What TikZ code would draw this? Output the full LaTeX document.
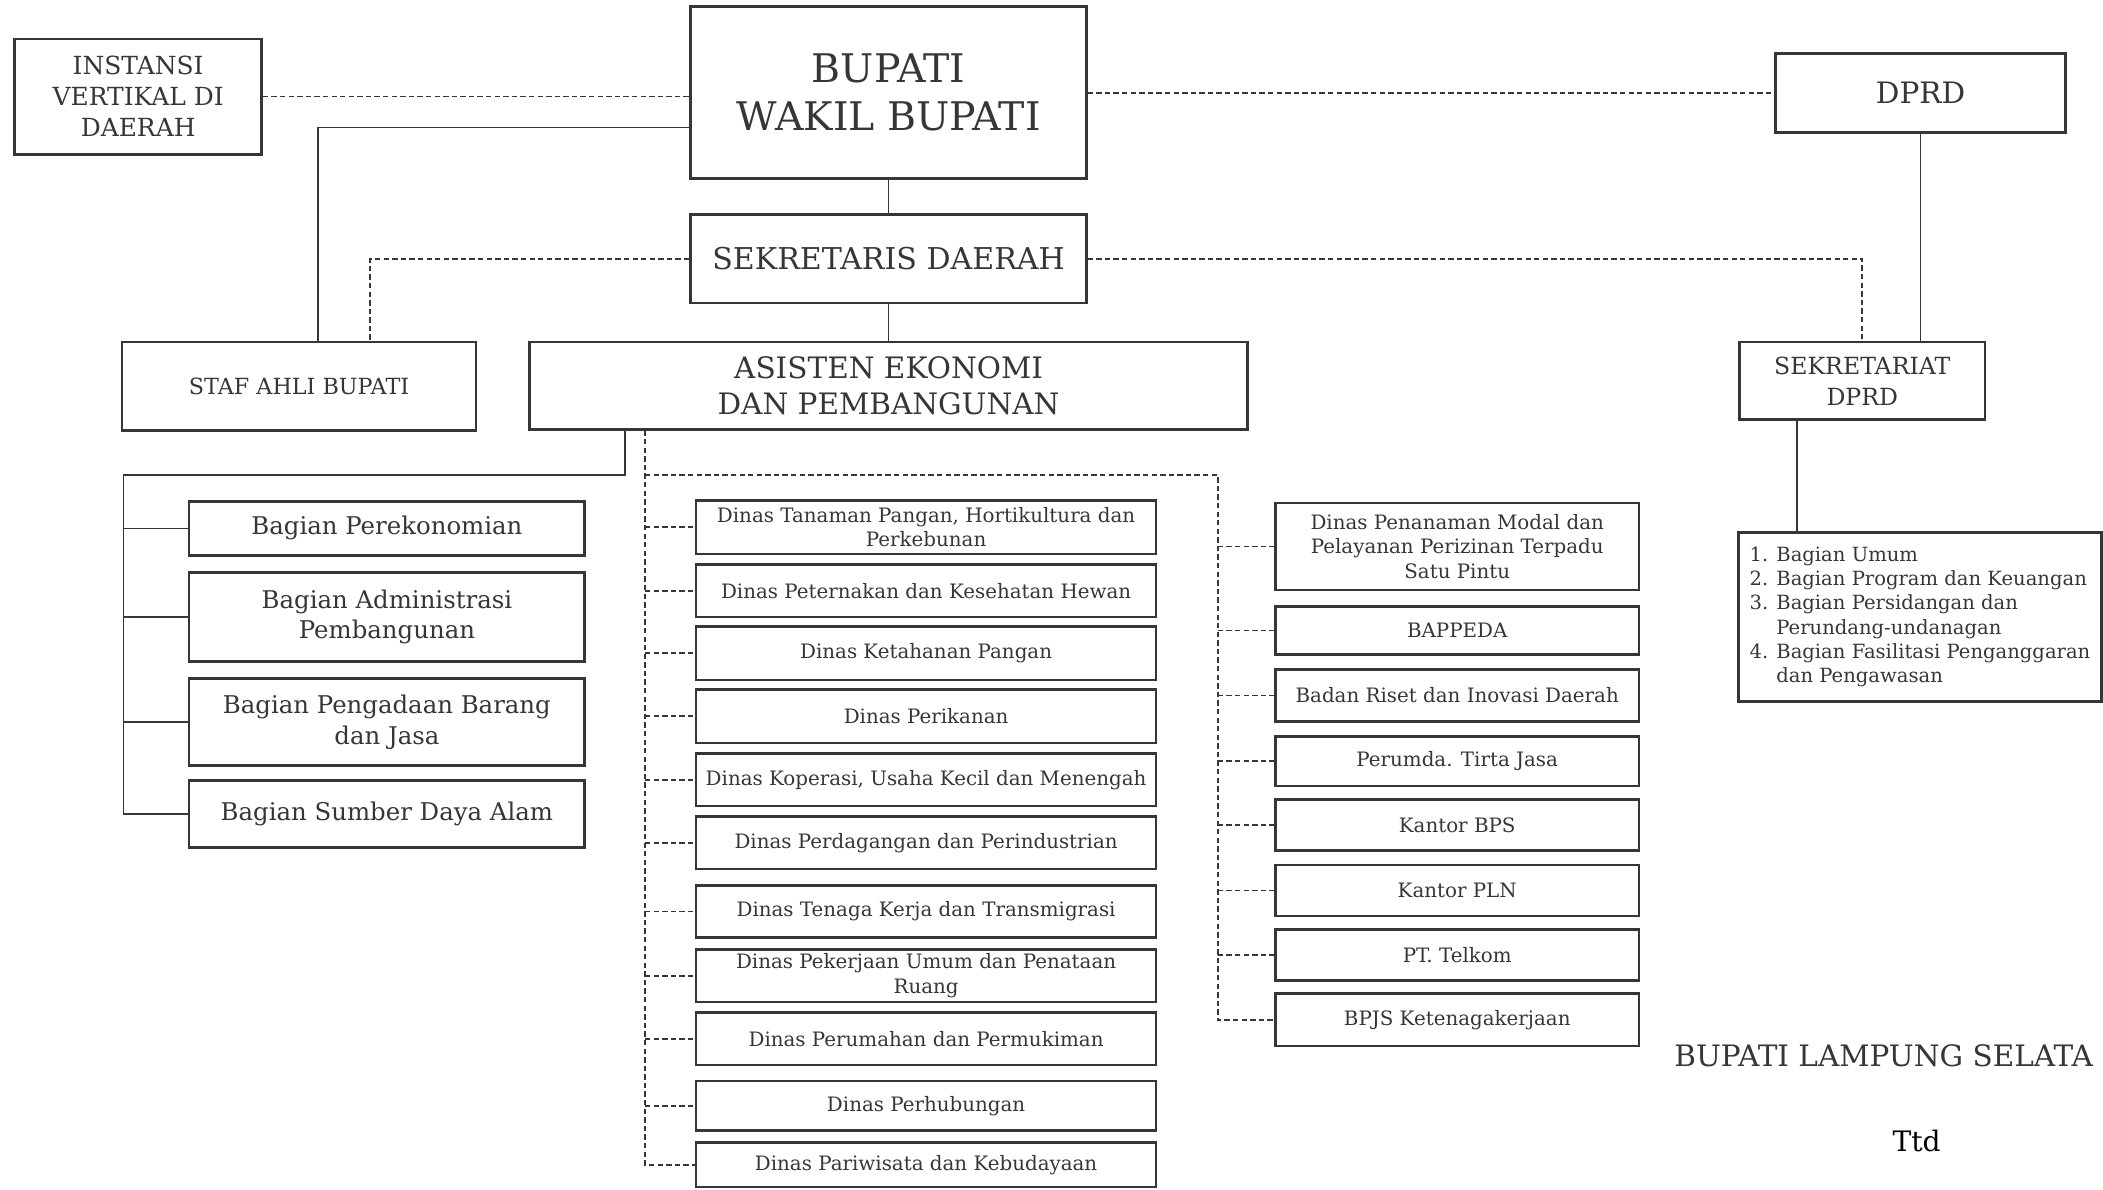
\documentclass[tikz,border=0pt]{standalone}
\usepackage{fontspec}
\setmainfont{DejaVu Serif}
\definecolor{ink}{HTML}{363636}
\newcommand{\fsz}[2]{\fontsize{#1}{#2}\selectfont}

\begin{document}
\begin{tikzpicture}
[x=0.5pt, y=-0.5pt, every node/.style={inner sep=0pt, text=ink},
 box/.style={draw=ink, line width=1pt, align=center},
 link/.style={draw=ink, line width=0.6pt},
 dlink/.style={link, dash pattern=on 2pt off 1.2pt}]
\useasboundingbox (0,0) rectangle (1568,887);
% top row
\node (1) [box, minimum width=147.5pt, minimum height=64pt, font=\fsz{14.7pt}{18pt}] at (662.5, 69) {BUPATI\\WAKIL BUPATI};
\node (2) [box, minimum width=92pt, minimum height=43pt, font=\fsz{9.3pt}{11.5pt}] at (103, 72) {INSTANSI\\VERTIKAL DI\\DAERAH};
\node (3) [box, minimum width=108pt, minimum height=29.5pt, font=\fsz{11pt}{13pt}] at (1432, 69.5) {DPRD};
\node (4) [box, minimum width=147.5pt, minimum height=33pt, font=\fsz{11.2pt}{13pt}] at (662.5, 193) {SEKRETARIS DAERAH};
\node (5) [box, minimum width=132pt, minimum height=33pt, font=\fsz{8.3pt}{10pt}] at (223, 288) {STAF AHLI BUPATI};
\node (6) [box, minimum width=267.5pt, minimum height=32.5pt, font=\fsz{11pt}{13.5pt}] at (662.5, 287.5) {ASISTEN EKONOMI\\DAN PEMBANGUNAN};
\node (7) [box, minimum width=91.5pt, minimum height=29pt, font=\fsz{8.8pt}{11.5pt}] at (1388.5, 284) {SEKRETARIAT\\DPRD};
\node (8) [box, align=left, minimum width=135.5pt, minimum height=63pt, font=\fsz{7.3pt}{9pt}] at (1431.5, 460)
  {\makebox[10pt][l]{1.}Bagian Umum\\\makebox[10pt][l]{2.}Bagian Program dan Keuangan\\\makebox[10pt][l]{3.}Bagian Persidangan dan\\\hspace*{10pt}Perundang-undanagan\\\makebox[10pt][l]{4.}Bagian Fasilitasi Penganggaran\\\hspace*{10pt}dan Pengawasan};
% bagian
\node (11) [box, minimum width=147.5pt, minimum height=20pt, font=\fsz{9.1pt}{11.5pt}] at (288.5, 394) {Bagian Perekonomian};
\node (12) [box, minimum width=147.5pt, minimum height=33pt, font=\fsz{9.1pt}{11.5pt}] at (288.5, 460) {Bagian Administrasi\\Pembangunan};
\node (13) [box, minimum width=147.5pt, minimum height=32.5pt, font=\fsz{9.1pt}{11.5pt}] at (288.5, 538.5) {Bagian Pengadaan Barang\\dan Jasa};
\node (14) [box, minimum width=147.5pt, minimum height=25pt, font=\fsz{9.1pt}{11.5pt}] at (288.5, 607) {Bagian Sumber Daya Alam};
% dinas
\node (21) [box, minimum width=171.5pt, minimum height=20pt, font=\fsz{7.4pt}{9pt}] at (690.5, 393) {Dinas Tanaman Pangan, Hortikultura dan\\Perkebunan};
\node (22) [box, minimum width=171.5pt, minimum height=19.5pt, font=\fsz{7.4pt}{9pt}] at (690.5, 440.5) {Dinas Peternakan dan Kesehatan Hewan};
\node (23) [box, minimum width=171.5pt, minimum height=20pt, font=\fsz{7.4pt}{9pt}] at (690.5, 487) {Dinas Ketahanan Pangan};
\node (24) [box, minimum width=171.5pt, minimum height=20pt, font=\fsz{7.4pt}{9pt}] at (690.5, 534) {Dinas Perikanan};
\node (25) [box, minimum width=171.5pt, minimum height=19.5pt, font=\fsz{7.4pt}{9pt}] at (690.5, 581.5) {Dinas Koperasi, Usaha Kecil dan Menengah};
\node (26) [box, minimum width=171.5pt, minimum height=19.5pt, font=\fsz{7.4pt}{9pt}] at (690.5, 628.5) {Dinas Perdagangan dan Perindustrian};
\node (27) [box, minimum width=171.5pt, minimum height=19.5pt, font=\fsz{7.4pt}{9pt}] at (690.5, 679.5) {Dinas Tenaga Kerja dan Transmigrasi};
\node (28) [box, minimum width=171.5pt, minimum height=19.5pt, font=\fsz{7.4pt}{9pt}] at (690.5, 727.5) {Dinas Pekerjaan Umum dan Penataan\\Ruang};
\node (29) [box, minimum width=171.5pt, minimum height=19.5pt, font=\fsz{7.4pt}{9pt}] at (690.5, 774.5) {Dinas Perumahan dan Permukiman};
\node (30) [box, minimum width=171.5pt, minimum height=18.5pt, font=\fsz{7.4pt}{9pt}] at (690.5, 824.5) {Dinas Perhubungan};
\node (31) [box, minimum width=171.5pt, minimum height=16.5pt, font=\fsz{7.4pt}{9pt}] at (690.5, 868.5) {Dinas Pariwisata dan Kebudayaan};
% badan / instansi
\node (41) [box, minimum width=135.5pt, minimum height=32.5pt, font=\fsz{7.4pt}{9pt}] at (1086.5, 407.5) {Dinas Penanaman Modal dan\\Pelayanan Perizinan Terpadu\\Satu Pintu};
\node (42) [box, minimum width=135.5pt, minimum height=18pt, font=\fsz{7.4pt}{9pt}] at (1086.5, 470) {BAPPEDA};
\node (43) [box, minimum width=135.5pt, minimum height=19.5pt, font=\fsz{7.4pt}{9pt}] at (1086.5, 518.5) {Badan Riset dan Inovasi Daerah};
\node (44) [box, minimum width=135.5pt, minimum height=18.5pt, font=\fsz{7.4pt}{9pt}] at (1086.5, 567.5) {Perumda. Tirta Jasa};
\node (45) [box, minimum width=135.5pt, minimum height=19pt, font=\fsz{7.4pt}{9pt}] at (1086.5, 615) {Kantor BPS};
\node (46) [box, minimum width=135.5pt, minimum height=19pt, font=\fsz{7.4pt}{9pt}] at (1086.5, 664) {Kantor PLN};
\node (47) [box, minimum width=135.5pt, minimum height=19pt, font=\fsz{7.4pt}{9pt}] at (1086.5, 712) {PT. Telkom};
\node (48) [box, minimum width=135.5pt, minimum height=19.5pt, font=\fsz{7.4pt}{9pt}] at (1086.5, 760.5) {BPJS Ketenagakerjaan};
% lines
\draw [dlink] (2.east) -- (2.east -| 1.west);
\draw [dlink] (1.east |- 3.west) -- (3.west);
\draw [link] (1.west |- 0,95) -| ([xshift=7pt]5.north);
\draw [link] (1.south) -- (4.north);
\draw [link] (4.south) -- (6.north);
\draw [dlink] (4.west) -| ([xshift=26.5pt]5.north);
\draw [dlink] (4.east) -| (7.north);
\draw [link] (3.south) -- (3.south |- 7.north);
\draw [link] ([xshift=-24.25pt]7.south) -- ([xshift=-24.25pt]7.south |- 8.north);
% bagian tree
\coordinate (L) at (92, 354);
\draw [link] ([xshift=-98.25pt]6.south) |- (L) -- (L |- 14.west) -- (14.west);
\draw [link] (L |- 11.west) -- (11.west);
\draw [link] (L |- 12.west) -- (12.west);
\draw [link] (L |- 13.west) -- (13.west);
% dinas tree
\coordinate (M) at (481, 354);
\coordinate (R) at (908, 354);
\draw [dlink] ([xshift=-90.75pt]6.south) -- (M |- 31.west) -- (31.west);
\draw [dlink] (M) -| (R |- 48.west) -- (48.west);
\draw [dlink] (M |- 21.west) -- (21.west);
\draw [dlink] (M |- 22.west) -- (22.west);
\draw [dlink] (M |- 23.west) -- (23.west);
\draw [dlink] (M |- 24.west) -- (24.west);
\draw [dlink] (M |- 25.west) -- (25.west);
\draw [dlink] (M |- 26.west) -- (26.west);
\draw [dlink] (M |- 27.west) -- (27.west);
\draw [dlink] (M |- 28.west) -- (28.west);
\draw [dlink] (M |- 29.west) -- (29.west);
\draw [dlink] (M |- 30.west) -- (30.west);
\draw [dlink] (R |- 41.west) -- (41.west);
\draw [dlink] (R |- 42.west) -- (42.west);
\draw [dlink] (R |- 43.west) -- (43.west);
\draw [dlink] (R |- 44.west) -- (44.west);
\draw [dlink] (R |- 45.west) -- (45.west);
\draw [dlink] (R |- 46.west) -- (46.west);
\draw [dlink] (R |- 47.west) -- (47.west);
% signature
\node (51) [anchor=west, font=\fsz{11pt}{13pt}] at (1248, 787) {BUPATI LAMPUNG SELATA};
\node (52) [font=\fsz{10.5pt}{12pt}, text=black] at (1429, 851) {Ttd};
\end{tikzpicture}
\end{document}
